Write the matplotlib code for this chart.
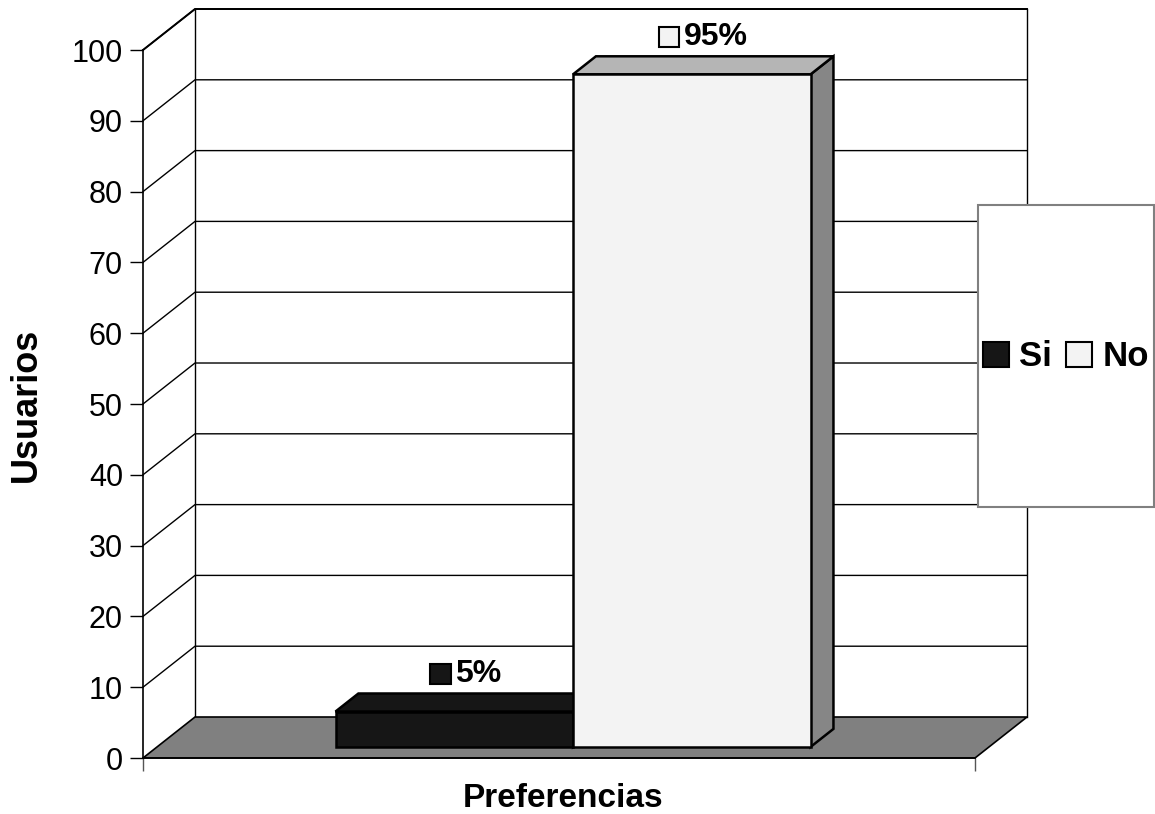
import matplotlib
matplotlib.use("Agg")
import matplotlib.pyplot as plt
from matplotlib.patches import Polygon, Rectangle, Patch
from matplotlib.offsetbox import AnnotationBbox, HPacker, TextArea, DrawingArea

plt.rcParams["font.family"] = ["Liberation Sans", "DejaVu Sans"]

# data
series = ["Si", "No"]
values = [5, 95]
value_labels = ["5%", "95%"]
yticks = list(range(0, 101, 10))

# colours per series: front, top, side
front_colors = ["#161616", "#f3f3f3"]
top_colors = ["#161616", "#b5b5b5"]
side_colors = ["#0c0c0c", "#868686"]
key_colors = ["#161616", "#f3f3f3"]

# fake 3d geometry
DX, DY = 0.0625, 5.79     # depth of floor / walls (x units, value units)
D0, D1 = 0.27, 0.71       # depth range of the bars
bar_w = 0.2855

W, H = 1155, 814
fig = plt.figure(figsize=(W / 100, H / 100), dpi=100)
ax = fig.add_axes([143 / W, 56 / H, 832 / W, 708 / H])
ax.set_xlim(0, 1)
ax.set_ylim(0, 100)

# walls and grid
line_kw = dict(color="black", lw=1, clip_on=False, zorder=1)
for v in yticks[1:]:
    ax.plot([0, DX, 1 + DX], [v, v + DY, v + DY], **line_kw)
ax.plot([DX, DX], [DY, 100 + DY], **line_kw)
ax.plot([1 + DX, 1 + DX], [DY, 100 + DY], **line_kw)
ax.plot([0, DX, 1 + DX], [100, 100 + DY, 100 + DY], color="black", lw=1.4,
        clip_on=False, zorder=1)

floor = Polygon([(0, 0), (1, 0), (1 + DX, DY), (DX, DY)], closed=True,
                fc="#808080", ec="black", lw=1.2, clip_on=False, zorder=2)
ax.add_patch(floor)

# bars
x_start = 0.5 - bar_w * len(values) / 2
for i, v in enumerate(values):
    x = x_start + i * bar_w
    xf, yf = x + D0 * DX, D0 * DY
    xb, yb = x + D1 * DX, D1 * DY
    side = Polygon([(xf + bar_w, yf), (xb + bar_w, yb), (xb + bar_w, yb + v),
                    (xf + bar_w, yf + v)], fc=side_colors[i], ec="black",
                   lw=1.8, joinstyle="miter", clip_on=False, zorder=3)
    top = Polygon([(xf, yf + v), (xf + bar_w, yf + v), (xb + bar_w, yb + v),
                   (xb, yb + v)], fc=top_colors[i], ec="black", lw=1.8,
                  joinstyle="miter", clip_on=False, zorder=3)
    front = Rectangle((xf, yf), bar_w, v, fc=front_colors[i], ec="black",
                      lw=1.8, joinstyle="miter", clip_on=False, zorder=3)
    ax.add_patch(side)
    ax.add_patch(top)
    ax.add_patch(front)

    key = DrawingArea(14.5, 14.5)
    key.add_artist(Rectangle((0, 0), 14.5, 14.5, fc=key_colors[i],
                             ec="black", lw=1.5))
    txt = TextArea(value_labels[i], textprops=dict(fontsize=23,
                                                   fontweight="bold"))
    box = HPacker(children=[key, txt], sep=3, align="center", pad=0)
    ab = AnnotationBbox(box, (x + bar_w / 2 + (D0 + D1) / 2 * DX, v + D1 * DY),
                        xybox=(0, 14), xycoords="data",
                        boxcoords="offset points", frameon=False,
                        box_alignment=(0.5, 0.5), annotation_clip=False)
    ax.add_artist(ab)

# axes
ax.set_yticks(yticks)
ax.set_xticks([0, 1])
ax.set_xticklabels([])
ax.tick_params(axis="y", length=9.4, width=1, pad=5, labelsize=22)
ax.tick_params(axis="x", length=9.4, width=1, color="#555555")
for s in ["top", "right"]:
    ax.spines[s].set_visible(False)
ax.spines["left"].set_linewidth(1.2)
ax.spines["bottom"].set_linewidth(1.2)
ax.patch.set_visible(False)

fig.text(26 / W, 1 - 405 / H, "Usuarios", rotation=90, ha="center",
         va="center", fontsize=26, fontweight="bold")
fig.text(563 / W, 1 - 807 / H, "Preferencias", ha="center", va="baseline",
         fontsize=24, fontweight="bold")

# legend
fig.add_artist(Rectangle((978 / W, 1 - 507 / H), 176 / W, 302 / H,
                         transform=fig.transFigure, fc="white",
                         ec="#808080", lw=1.5))
handles = [Patch(fc=key_colors[i], ec="black", lw=1.5)
           for i in range(len(series))]
fig.legend(handles, series, loc="center", bbox_to_anchor=(1066 / W, 1 - 357 / H),
           ncol=2, frameon=False, prop=dict(size=25, weight="bold"),
           handlelength=0.75, handleheight=0.75, handletextpad=0.3,
           columnspacing=0.4, borderpad=0)

fig.savefig("out.png", dpi=100)
